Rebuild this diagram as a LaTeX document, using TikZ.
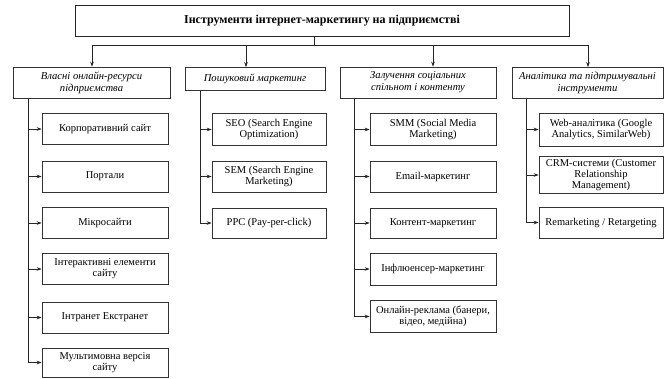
\documentclass[tikz,border=0pt]{standalone}
\usepackage{fontspec}
\setmainfont{Liberation Serif}
\usetikzlibrary{arrows.meta}
\begin{document}
\begin{tikzpicture}[x=1pt,y=-1pt,
  box/.style={draw=black!80, line width=0.7pt, align=center, inner sep=0pt,
    font=\fontsize{10.5}{11}\selectfont},
  catbox/.style={box, font=\fontsize{10.6}{12}\selectfont\itshape},
  titlebox/.style={draw=black!85, line width=1pt, align=center,
    font=\fontsize{12}{14}\selectfont\bfseries},
  link/.style={draw=black!85, line width=0.7pt},
  arr/.style={link, -{Stealth[length=5pt,width=3.6pt]}}]
\useasboundingbox (0,0) rectangle (664,378);

% title
\node[titlebox, minimum width=494, minimum height=31] (top) at (322,20.5)
  {Інструменти інтернет-маркетингу на підприємстві};

% categories
\node[catbox, minimum width=157, minimum height=31] (c1) at (91.5,82.5)
  {Власні онлайн-ресурси\\підприємства};
\node[catbox, minimum width=140, minimum height=23] (c2) at (255,79)
  {Пошуковий маркетинг};
\node[catbox, minimum width=156, minimum height=31] (c3) at (418,82.5)
  {Залучення соціальних\\спільнот і контенту};
\node[catbox, minimum width=151, minimum height=31] (c4) at (587.5,83)
  {Аналітика та підтримувальні\\інструменти};

% bus from the title to the categories
\coordinate (b0) at (314,45);
\coordinate (b1) at (92,45);
\coordinate (b2) at (246,45);
\coordinate (b3) at (433,45);
\coordinate (b4) at (588,45);
\draw[link] (top.south -| b0) -- (b0);
\draw[link] (b1) -- (b4);
\draw[arr] (b1) -- (c1.north -| b1);
\draw[arr] (b2) -- (c2.north -| b2);
\draw[arr] (b3) -- (c3.north -| b3);
\draw[arr] (b4) -- (c4.north -| b4);

% column 1
\node[box, minimum width=126, minimum height=31] (k11) at (105,129) {Корпоративний сайт};
\node[box, minimum width=126, minimum height=31] (k12) at (105,176.5) {Портали};
\node[box, minimum width=126, minimum height=31] (k13) at (105,223) {Мікросайти};
\node[box, minimum width=126, minimum height=31] (k14) at (105,269) {Інтерактивні елементи\\сайту};
\node[box, minimum width=126, minimum height=31] (k15) at (105,317.5) {Інтранет Екстранет};
\node[box, minimum width=126, minimum height=29] (k16) at (105,362.5) {Мультимовна версія\\сайту};

% column 2
\node[box, minimum width=114, minimum height=32] (k21) at (269,129.5) {SEO (Search Engine\\Optimization)};
\node[box, minimum width=114, minimum height=31] (k22) at (269,176.5) {SEM (Search Engine\\Marketing)};
\node[box, minimum width=114, minimum height=30] (k23) at (269,223) {PPC (Pay-per-click)};

% column 3
\node[box, minimum width=126, minimum height=32] (k31) at (433,129.5) {SMM (Social Media\\Marketing)};
\node[box, minimum width=126, minimum height=31] (k32) at (433,176.5) {Email-маркетинг};
\node[box, minimum width=126, minimum height=30] (k33) at (433,223) {Контент-маркетинг};
\node[box, minimum width=126, minimum height=32] (k34) at (433,269) {Інфлюенсер-маркетинг};
\node[box, minimum width=126, minimum height=32] (k35) at (433,316.5) {Онлайн-реклама (банери,\\відео, медійна)};

% column 4
\node[box, minimum width=124, minimum height=33] (k41) at (601,129.5) {Web-аналітика (Google\\Analytics, SimilarWeb)};
\node[box, minimum width=124, minimum height=37] (k42) at (601,175) {CRM-системи (Customer\\Relationship\\Management)};
\node[box, minimum width=124, minimum height=31] (k43) at (601,222.5) {Remarketing / Retargeting};

% trunks
\coordinate (t1) at (28,0);
\coordinate (t2) at (200,0);
\coordinate (t3) at (354,0);
\coordinate (t4) at (526,0);
\draw[link] (c1.south -| t1) -- (k16.west -| t1);
\draw[link] (c2.south -| t2) -- (k23.west -| t2);
\draw[link] (c3.south -| t3) -- (k35.west -| t3);
\draw[link] (c4.south -| t4) -- (k43.west -| t4);

\foreach \k in {k11,k12,k13,k14,k15,k16} \draw[arr] (\k.west -| t1) -- (\k.west);
\foreach \k in {k21,k22,k23} \draw[arr] (\k.west -| t2) -- (\k.west);
\foreach \k in {k31,k32,k33,k34,k35} \draw[arr] (\k.west -| t3) -- (\k.west);
\foreach \k in {k41,k42,k43} \draw[arr] (\k.west -| t4) -- (\k.west);
\end{tikzpicture}
\end{document}
